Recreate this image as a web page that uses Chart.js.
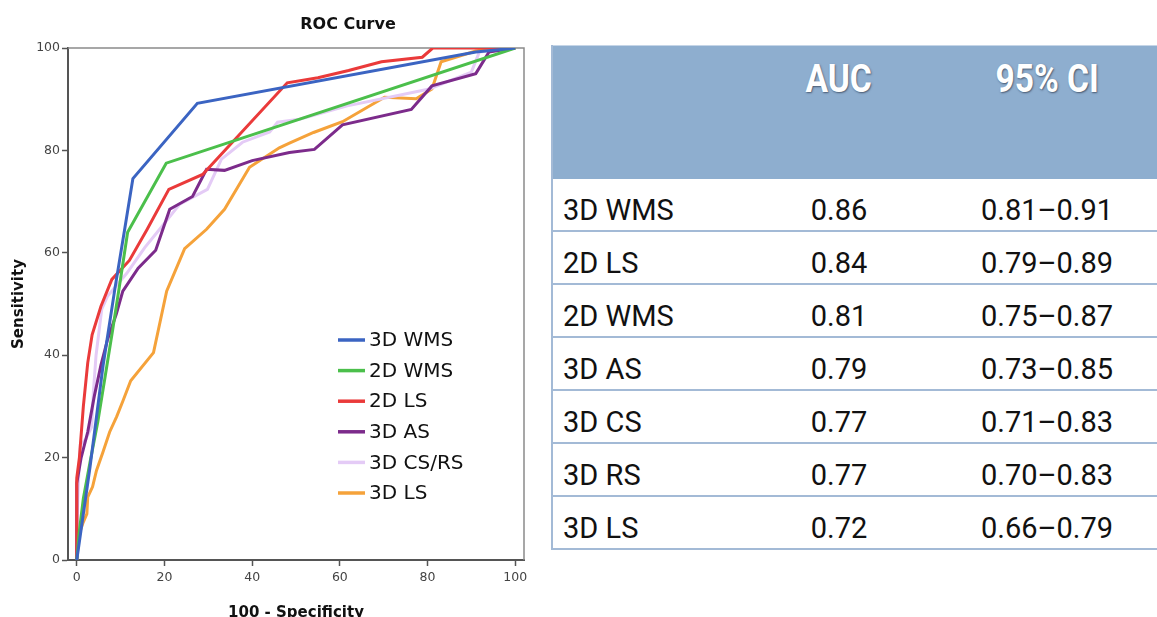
<!DOCTYPE html>
<html><head><meta charset="utf-8">
<script src="https://cdn.jsdelivr.net/npm/chart.js@4"></script>
<style>
html,body{margin:0;padding:0;background:#fff;width:1157px;height:617px;overflow:hidden;position:relative;}
#chartWrap{position:absolute;left:0;top:0;width:548px;height:617px;overflow:hidden;}
#tbl{position:absolute;left:551px;top:45px;width:606px;height:505px;font-family:Roboto,"Liberation Sans",sans-serif;}
.hdr{position:absolute;left:0;top:0;width:606px;height:134px;background:#8eaecf;border-top:1px solid #c5d5e7;}
.hcell{position:absolute;top:10px;width:200px;text-align:center;color:#fff;font-weight:bold;font-size:39px;line-height:46px;text-shadow:1px 1px 2px rgba(40,50,70,0.7);}
.hcell span{display:inline-block;transform:scaleX(0.86);}
.row{position:absolute;left:0;width:606px;height:51px;border-bottom:2px solid #a3bad6;background:#fff;}
.cell{position:absolute;top:6px;font-size:29px;line-height:51px;color:#111;white-space:nowrap;}
.lbl{left:12px;}
.num{width:200px;text-align:center;}
.vline{position:absolute;left:0;top:0;width:2px;height:505px;background:#a3bad6;}
</style></head>
<body>
<div id="chartWrap"><canvas id="c" width="548" height="640"></canvas></div>
<div id="tbl"></div>
<script>
// ---- data ----
const chartTitle = 'ROC Curve';
const xTicks = [0, 20, 40, 60, 80, 100];
const yTicks = [0, 20, 40, 60, 80, 100];
const seriesNames = ['3D WMS', '2D WMS', '2D LS', '3D AS', '3D CS/RS', '3D LS'];
const seriesColors = ['#3b64c2', '#4bbf4b', '#ea3a3a', '#7c2b8b', '#e4cbf6', '#f5a23a'];

const roc3DWMS = [[0,0],[1,6],[3,18],[6,38],[8.7,53],[11,65],[12.8,74.5],[27.5,89.2],[91,99.2],[100,100]];
const roc2DWMS = [[0,0],[0.5,5],[1.5,12],[3,19],[4.8,27],[6.5,36],[8.2,45],[10,55],[11.6,64],[20.4,77.5],[100,100]];
const roc2DLS = [[0,0],[0,16],[0.6,20],[1.5,30],[2.5,38.5],[3.5,44],[5.5,49.5],[8,54.8],[12,58.5],[16,64.5],[21,72.4],[28.7,75.3],[48,93.2],[55,94.2],[62,95.6],[69.5,97.3],[78.8,98.2],[81.2,100],[100,100]];
const roc3DAS = [[0,0],[0,15],[1,20],[2.5,25],[4,32],[5.5,38],[7,43],[9,48],[10.5,52.5],[14,57],[18,60.5],[21.2,68.5],[26.4,71],[29.6,76.3],[33.7,76.1],[40,78],[48.5,79.6],[54.2,80.2],[60.6,85],[76.3,88],[81,92.6],[91,95],[94,99.2],[100,100]];
const roc3DCSRS = [[0,0],[0,6],[0.3,14],[0.8,22.5],[2,23.5],[3.4,26],[3.8,33],[4.4,40],[5.7,49],[7,51.5],[11.4,56],[15.5,61],[18.9,64.6],[23.5,69.5],[29.8,72.4],[33,78.3],[37.8,81.6],[44,83.6],[45.8,85.5],[50.8,86.1],[61.7,88.7],[80.4,92],[90,95.3],[91.8,99.2],[100,100]];
const roc3DLS = [[0,0],[0,2.5],[0.5,5],[1.4,7.2],[2.3,9],[2.5,12.3],[3.6,14.3],[4.5,17.5],[5.9,20.9],[7.5,25],[9.1,28],[10.5,31],[12.3,35],[17.5,40.5],[20.5,52.5],[24.6,60.8],[29.6,64.6],[33.7,68.5],[39.4,76.7],[46.2,80.5],[48.5,81.4],[54,83.5],[60.6,85.6],[70.2,90.4],[77.4,90.1],[81,92],[83.1,97.3],[91,99.4],[95.7,100],[100,100]];
const seriesData = [roc3DWMS, roc2DWMS, roc2DLS, roc3DAS, roc3DCSRS, roc3DLS];

const tableLabels = ['3D WMS', '2D LS', '2D WMS', '3D AS', '3D CS', '3D RS', '3D LS'];
const tableAUC = ['0.86', '0.84', '0.81', '0.79', '0.77', '0.77', '0.72'];
const tableCI = ['0.81\u20130.91', '0.79\u20130.89', '0.75\u20130.87', '0.73\u20130.85', '0.71\u20130.83', '0.70\u20130.83', '0.66\u20130.79'];
const tableHeaders = ['', 'AUC', '95% CI'];

// ---- table ----
(function buildTable(){
  const t = document.getElementById('tbl');
  let h = '<div class="hdr">';
  h += '<div class="hcell" style="left:188px"><span>' + tableHeaders[1] + '</span></div>';
  h += '<div class="hcell" style="left:396px"><span>' + tableHeaders[2] + '</span></div>';
  h += '</div>';
  tableLabels.forEach((lab, i) => {
    const top = 134 + i * 53;
    h += '<div class="row" style="top:' + top + 'px">' +
      '<div class="cell lbl">' + lab + '</div>' +
      '<div class="cell num" style="left:188px">' + tableAUC[i] + '</div>' +
      '<div class="cell num" style="left:396px">' + tableCI[i] + '</div></div>';
  });
  h += '<div class="vline"></div>';
  t.innerHTML = h;
})();

// ---- chart ----
const frame = {
  id: 'frame',
  beforeDatasetsDraw(chart) {
    const {ctx, chartArea: a} = chart;
    ctx.save();
    ctx.strokeStyle = '#8a8a8a';
    ctx.lineWidth = 1.5;
    ctx.beginPath();
    ctx.moveTo(a.left, a.top); ctx.lineTo(a.right, a.top); ctx.lineTo(a.right, a.bottom);
    ctx.stroke();
    ctx.restore();
  },
  afterDraw(chart) {
    const {ctx, chartArea: a} = chart;
    ctx.save();
    ctx.font = 'bold 16px "DejaVu Sans"';
    ctx.fillStyle = '#111';
    ctx.textAlign = 'center';
    ctx.textBaseline = 'middle';
    ctx.fillText(chartTitle, a.left + 280, a.top - 23);
    ctx.restore();
  }
};
const insideLegend = {
  id: 'insideLegend',
  afterDatasetsDraw(chart) {
    const {ctx, chartArea: a} = chart;
    ctx.save();
    ctx.font = '20px "DejaVu Sans"';
    ctx.textBaseline = 'middle';
    seriesNames.forEach((n, i) => {
      const y = a.top + 292 + i * 30.6;
      const x0 = a.left + 270;
      ctx.strokeStyle = seriesColors[i];
      ctx.lineWidth = 3.5;
      ctx.beginPath(); ctx.moveTo(x0, y); ctx.lineTo(x0 + 27, y); ctx.stroke();
      ctx.fillStyle = '#111';
      ctx.fillText(n, x0 + 31, y + 1);
    });
    ctx.restore();
  }
};

new Chart(document.getElementById('c'), {
  type: 'line',
  data: {
    datasets: seriesNames.map((n, i) => ({
      label: n,
      data: seriesData[i].map(p => ({x: p[0], y: p[1]})),
      borderColor: seriesColors[i],
      backgroundColor: seriesColors[i],
      borderWidth: 3,
      pointRadius: 0,
      tension: 0,
      fill: false
    }))
  },
  options: {
    responsive: false,
    animation: false,
    devicePixelRatio: 1,
    layout: {padding: {left: 0, right: 24, top: 48, bottom: 10}},
    plugins: {
      legend: {display: false},
      tooltip: {enabled: false},
      title: {display: false}
    },
    scales: {
      x: {
        type: 'linear', min: -2, max: 102,
        afterBuildTicks: s => { s.ticks = xTicks.map(v => ({value: v})); },
        afterFit: s => { s.height = 70; },
        ticks: {color: '#444', font: {family: '"DejaVu Sans"', size: 12.5}, padding: 4, maxRotation: 0},
        grid: {drawOnChartArea: false, drawTicks: true, tickLength: 6, color: '#555', tickWidth: 1.5},
        border: {display: true, color: '#555', width: 2},
        title: {display: true, text: '100 - Specificity', color: '#111',
          font: {family: '"DejaVu Sans"', size: 15, weight: 'bold'}, padding: {top: 0, bottom: 8}}
      },
      y: {
        type: 'linear', min: 0, max: 100,
        afterBuildTicks: s => { s.ticks = yTicks.map(v => ({value: v})); },
        afterFit: s => { s.width = 68; },
        ticks: {color: '#444', font: {family: '"DejaVu Sans"', size: 12.5}, padding: 2},
        grid: {drawOnChartArea: false, drawTicks: true, tickLength: 6, color: '#555', tickWidth: 1.5},
        border: {display: true, color: '#555', width: 2},
        title: {display: true, text: 'Sensitivity', color: '#111',
          font: {family: '"DejaVu Sans"', size: 15, weight: 'bold'}, padding: {top: 10, bottom: 0}}
      }
    }
  },
  plugins: [frame, insideLegend]
});
</script>
</body></html>
